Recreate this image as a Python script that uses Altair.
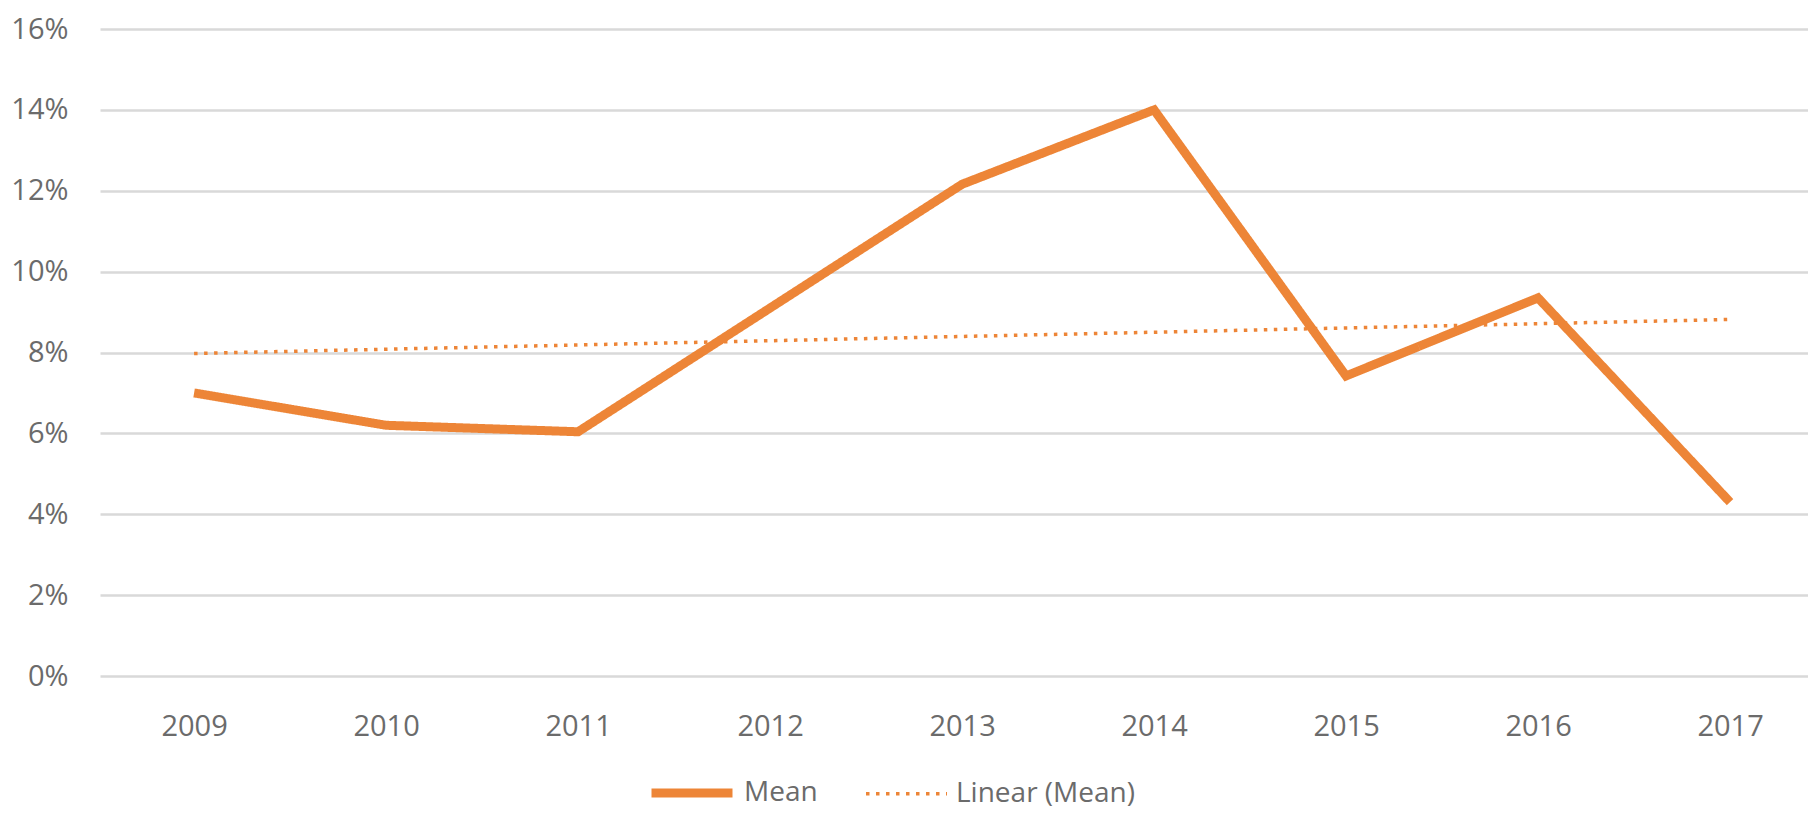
import altair as alt
import pandas as pd

years = [2009, 2010, 2011, 2012, 2013, 2014, 2015, 2016, 2017]
mean_values = [0.070, 0.062, 0.0604, 0.091, 0.1216, 0.140, 0.0742, 0.0935, 0.043]
y_ticks = [0.0, 0.02, 0.04, 0.06, 0.08, 0.10, 0.12, 0.14, 0.16]
series_names = ["Mean", "Linear (Mean)"]

df = pd.DataFrame({"year": years, "mean": mean_values})

ORANGE = "#ED8537"
TEXT = "#6b6b6b"
FONT = "Open Sans"

x_enc = alt.X(
    "year:Q",
    scale=alt.Scale(domain=[2008.51, 2017.406], nice=False, zero=False),
    axis=alt.Axis(
        values=years, format="d", title=None, grid=False, ticks=False,
        domain=False, labelPadding=36, labelFontSize=29, labelColor=TEXT,
        labelFont=FONT,
    ),
)
y_enc = alt.Y(
    "mean:Q",
    scale=alt.Scale(domain=[0, 0.16], nice=False),
    axis=alt.Axis(
        values=y_ticks, format=".0%", title=None, ticks=False, domain=False,
        labelPadding=32, labelFontSize=29, labelColor=TEXT, labelFont=FONT,
        gridColor="#d9d9d9", gridWidth=2.5,
    ),
)

legend = alt.Legend(
    title=None, orient="none", direction="horizontal", legendX=547, legendY=719,
    symbolType="stroke", symbolSize=6561, labelFontSize=28, labelColor=TEXT,
    labelFont=FONT, labelOffset=7, columnPadding=41, symbolStrokeColor=ORANGE,
    labelLimit=500,
)

color_enc = alt.Color(
    "series:N",
    scale=alt.Scale(domain=series_names, range=[ORANGE, ORANGE]),
    legend=legend,
)
dash_enc = alt.StrokeDash(
    "series:N",
    scale=alt.Scale(domain=series_names, range=[[1, 0], [3.5, 6.5]]),
    legend=legend,
)
width_enc = alt.StrokeWidth(
    "series:N",
    scale=alt.Scale(domain=series_names, range=[9, 3.5]),
    legend=legend,
)

mean_line = (
    alt.Chart(df)
    .transform_calculate(series="'Mean'")
    .mark_line(strokeCap="butt", strokeJoin="miter")
    .encode(x=x_enc, y=y_enc, color=color_enc, strokeDash=dash_enc,
            strokeWidth=width_enc)
)

trend_line = (
    alt.Chart(df)
    .transform_regression("year", "mean")
    .transform_calculate(series="'Linear (Mean)'")
    .mark_line(strokeCap="butt")
    .encode(x=x_enc, y=y_enc, color=color_enc, strokeDash=dash_enc,
            strokeWidth=width_enc)
)

chart = (
    alt.layer(trend_line, mean_line)
    .properties(
        width=1708, height=647,
        autosize=alt.AutoSizeParams(type="none"),
        padding={"left": 92, "top": 21, "right": 0, "bottom": 134},
        background="white",
    )
    .configure_view(stroke=None)
)

chart.save("out.html", embed_options={"renderer": "svg", "actions": False})
